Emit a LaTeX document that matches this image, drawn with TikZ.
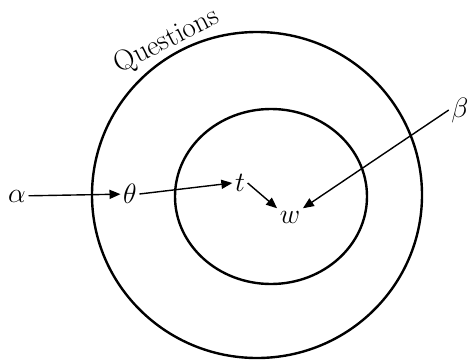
\RequirePackage{fix-cm}
\documentclass[tikz,border=0pt]{standalone}
\usetikzlibrary{arrows.meta}
\begin{document}
\begin{tikzpicture}[x=1pt,y=-1pt,
  lbl/.style={inner sep=2.5pt,font=\fontsize{28}{32}\selectfont},
  ring/.style={line width=2.4pt},
  arr/.style={line width=1.4pt,-{Triangle[length=11pt,width=9pt]}}]
\useasboundingbox (0,0) rectangle (469,362);
\draw[ring] (257,195) ellipse [x radius=165, y radius=163];
\draw[ring] (271,196.5) ellipse [x radius=96, y radius=87.5];
\node[lbl] (alpha) at (17,196) {$\alpha$};
\node[lbl] (theta) at (130,194) {$\theta$};
\node[lbl] (t) at (240,183) {$t$};
\node[lbl] (w) at (290,217) {$w$};
\node[lbl] (beta) at (460,110) {$\beta$};
\node[font=\fontsize{29}{32}\selectfont, rotate=27, inner sep=0pt] (q) at (167,41) {Questions};
\draw[arr] (alpha) -- (theta);
\draw[arr] (theta.east) -- (t.west);
\draw[arr] (t.east) -- (w.north west);
\draw[arr] (beta.west) -- (w.north east);
\end{tikzpicture}
\end{document}
